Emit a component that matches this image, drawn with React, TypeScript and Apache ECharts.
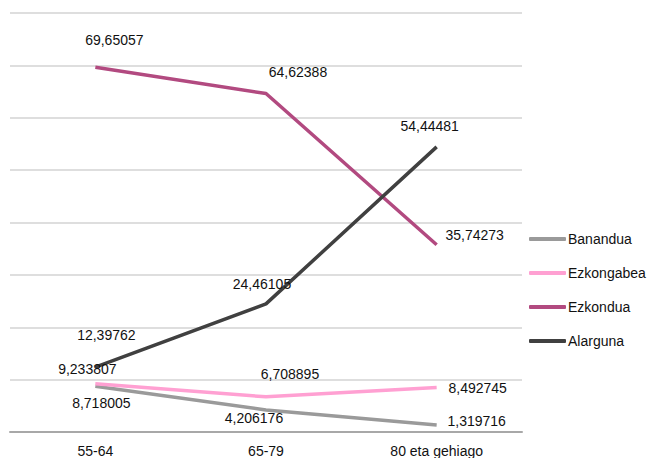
import React, { useEffect, useRef } from "react";
import * as echarts from "echarts";

// Age groups along the x axis
const categories = ["55-64", "65-79", "80 eta gehiago"];

// Share (%) per marital status in each age group
const banandua = [8.718005, 4.206176, 1.319716];
const ezkongabea = [9.233807, 6.708895, 8.492745];
const ezkondua = [69.65057, 64.62388, 35.74273];
const alarguna = [12.39762, 24.46105, 54.44481];

const seriesNames = ["Banandua", "Ezkongabea", "Ezkondua", "Alarguna"];
const seriesValues = [banandua, ezkongabea, ezkondua, alarguna];
const seriesColors = ["#9a9a9a", "#ffa0d2", "#b24a80", "#404040"];

// Where each value label sits relative to its point (dx, dy in px)
const labelOffsets: number[][][] = [
  [[6, 17], [-12, 8], [40, -4]],
  [[-8, -15], [24, -23], [41, 0]],
  [[19, -27], [32, -22], [38, -10]],
  [[11, -32], [-4, -20], [-7, -21]],
];

const fmt = (v: number) => String(v).replace(".", ",");

export default function App() {
  const ref = useRef<HTMLDivElement>(null);

  useEffect(() => {
    if (!ref.current) return;
    const chart = echarts.init(ref.current, undefined, { renderer: "svg" });
    const font = "Liberation Sans, Arial, sans-serif";

    chart.setOption({
      animation: false,
      grid: { left: 10, right: 127, top: 13, bottom: 26 },
      legend: {
        orient: "vertical",
        left: 524,
        top: 227,
        itemWidth: 37,
        itemHeight: 4,
        itemGap: 20,
        icon: "roundRect",
        data: seriesNames,
        textStyle: {
          fontFamily: font,
          fontSize: 14,
          color: "#111",
          lineHeight: 14,
          padding: [0, 0, 0, -3],
        },
      },
      xAxis: [
        {
          type: "category",
          data: categories,
          boundaryGap: true,
          axisLine: { lineStyle: { color: "#a8a8a8", width: 2 } },
          axisTick: { length: 5, lineStyle: { color: "#a8a8a8", width: 2 } },
          axisLabel: {
            fontFamily: font,
            fontSize: 14,
            color: "#111",
            margin: 12,
          },
        },
        {
          type: "category",
          data: categories,
          position: "bottom",
          boundaryGap: true,
          axisLine: { show: false },
          axisTick: {
            inside: true,
            length: 5,
            lineStyle: { color: "#a8a8a8", width: 2 },
          },
          axisLabel: { show: false },
        },
      ],
      yAxis: {
        type: "value",
        min: 0,
        max: 80,
        interval: 10,
        axisLine: { show: false },
        axisTick: { show: false },
        axisLabel: { show: false },
        splitLine: { lineStyle: { color: "#dedede", width: 2 } },
      },
      series: seriesNames.map((name, si) => ({
        name,
        type: "line",
        xAxisIndex: 0,
        data: seriesValues[si].map((v, ci) => ({
          value: v,
          label: {
            offset: labelOffsets[si][ci],
          },
        })),
        symbol: "circle",
        symbolSize: 0.1,
        showSymbol: true,
        color: seriesColors[si],
        lineStyle: { color: seriesColors[si], width: 3.5 },
        itemStyle: { color: seriesColors[si] },
        emphasis: { disabled: true },
        label: {
          show: true,
          position: "inside",
          align: "center",
          verticalAlign: "middle",
          fontFamily: font,
          fontSize: 14,
          color: "#111",
          formatter: (p: any) => fmt(p.value),
        },
      })),
    });

    return () => chart.dispose();
  }, []);

  return (
    <div
      ref={ref}
      style={{ position: "absolute", left: 0, top: 0, width: 649, height: 458 }}
    />
  );
}
